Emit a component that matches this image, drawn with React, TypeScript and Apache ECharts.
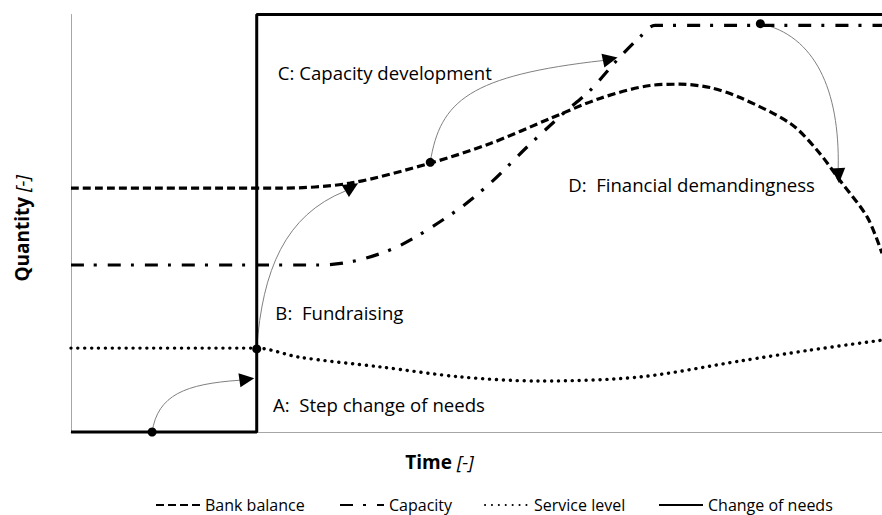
import React, { useEffect, useRef } from "react";
import * as echarts from "echarts";

// ---- data (time t in 0..100, quantity v in 0..100) ----
const changeX = [0, 22.9, 22.9, 100];
const changeY = [0, 0, 100, 100];

const bankX = [0, 25.8, 34.4, 44.3, 51.7, 59.1, 65.2, 71.4, 75.1, 78.8, 82.5, 88.7, 92.0, 94.8, 98.2, 100];
const bankY = [58.4, 58.4, 59.6, 64.4, 69.1, 75.1, 79.9, 83.0, 83.3, 82.5, 80.1, 73.9, 67.5, 60.3, 51.4, 42.8];

const capX = [0, 30.7, 35.3, 40.6, 47.6, 51.7, 56.2, 60.7, 64.0, 67.3, 70.2, 72.0, 100];
const capY = [40.0, 40.0, 41.1, 44.7, 53.1, 59.6, 68.2, 76.3, 81.8, 89.0, 94.7, 97.4, 97.4];

const serviceX = [0, 22.9, 28.2, 38.1, 48.0, 57.8, 70.2, 82.5, 91.1, 100];
const serviceY = [20.1, 20.1, 17.9, 15.6, 13.2, 12.2, 13.2, 17.0, 19.6, 22.0];

const dotX = [10.0, 22.9, 44.3, 85.0];
const dotY = [0, 19.9, 64.6, 97.8];

// annotation arrows (data coordinates)
const arrowStart = [[10.0, 0], [22.9, 19.9], [44.3, 64.6], [85.0, 97.8]];
const arrowCtrl1 = [[10.7, 8.9], [23.6, 38.8], [45.5, 79.4], [91.7, 95.0]];
const arrowCtrl2 = [[14.1, 11.5], [26.4, 51.9], [49.2, 85.4], [94.8, 82.0]];
const arrowEnd = [[20.8, 12.4], [33.8, 57.7], [65.7, 89.0], [94.6, 63.2]];
const arrowTip = [[22.6, 12.9], [35.4, 59.6], [67.4, 89.7], [94.7, 59.6]];

const annotationText = [
  "A:  Step change of needs",
  "B:  Fundraising",
  "C: Capacity development",
  "D:  Financial demandingness",
];
const annotationPos = [[24.9, 6.5], [25.2, 28.7], [25.5, 86.1], [61.3, 59.3]];

const legendNames = ["Bank balance", "Capacity", "Service level", "Change of needs"];

const zip = (xs: number[], ys: number[]) => xs.map((x, i) => [x, ys[i]]);

const FONT = "'Open Sans', Lato, sans-serif";

export default function App() {
  const ref = useRef<HTMLDivElement>(null);
  useEffect(() => {
    if (!ref.current) return;
    const chart = echarts.init(ref.current, undefined, { renderer: "svg" });
    const lineBase = { type: "line", symbol: "none", smooth: 0.3, clip: false };
    const legendLefts = [150, 334, 479, 653];
    chart.setOption({
      animation: false,
      backgroundColor: "#fff",
      textStyle: { fontFamily: FONT },
      grid: { left: 71, right: 0, top: 14.5, bottom: 83 },
      legend: legendNames.map((n, i) => ({
        data: [n],
        left: legendLefts[i],
        top: 492,
        itemWidth: 44,
        itemHeight: 14,
        itemGap: 0,
        itemStyle: { opacity: 0 },
        textStyle: { fontSize: 16, color: "#000", fontFamily: FONT },
        selectedMode: false,
      })),
      xAxis: {
        type: "value",
        min: 0,
        max: 100,
        interval: 100,
        axisLine: { show: true, onZero: false, lineStyle: { color: "#a6a6a6", width: 1 } },
        axisTick: { show: false },
        axisLabel: { show: false },
        splitLine: { show: false },
        name: "{b|Time} {i|[-]}",
        nameLocation: "middle",
        nameGap: 20,
        nameTextStyle: {
          padding: [0, 74, 0, 0],
          fontSize: 19,
          color: "#000",
          rich: {
            b: { fontWeight: "bold", fontSize: 19, fontFamily: FONT, color: "#000" },
            i: { fontStyle: "italic", fontSize: 19, fontFamily: FONT, color: "#000" },
          },
        },
      },
      yAxis: {
        type: "value",
        min: 0,
        max: 100,
        interval: 100,
        axisLine: { show: true, onZero: false, lineStyle: { color: "#a6a6a6", width: 1 } },
        axisTick: { show: false },
        axisLabel: { show: false },
        splitLine: { show: false },
        name: "{b|Quantity} {i|[-]}",
        nameLocation: "middle",
        nameRotate: 90,
        nameGap: 40,
        nameTextStyle: {
          padding: [0, 10, 0, 0],
          fontSize: 19,
          color: "#000",
          rich: {
            b: { fontWeight: "bold", fontSize: 19, fontFamily: FONT, color: "#000" },
            i: { fontStyle: "italic", fontSize: 19, fontFamily: FONT, color: "#000" },
          },
        },
      },
      series: [
        {
          ...lineBase,
          name: "Bank balance",
          data: zip(bankX, bankY),
          lineStyle: { color: "#000", width: 3.2, type: [8, 4] },
          itemStyle: { color: "#000" },
        },
        {
          ...lineBase,
          name: "Capacity",
          data: zip(capX, capY),
          lineStyle: { color: "#000", width: 3.2, type: [13, 10, 3, 11] },
          itemStyle: { color: "#000" },
        },
        {
          ...lineBase,
          name: "Service level",
          data: zip(serviceX, serviceY),
          lineStyle: { color: "#000", width: 3.4, type: [0.1, 6.8], cap: "round" },
          itemStyle: { color: "#000" },
        },
        {
          type: "line",
          name: "Change of needs",
          symbol: "none",
          clip: false,
          data: zip(changeX, changeY),
          lineStyle: { color: "#000", width: 3 },
          itemStyle: { color: "#000" },
        },
        {
          type: "custom",
          name: "annotations",
          clip: false,
          z: 3,
          data: annotationText.map((_, i) => [i]),
          renderItem: (params: any, api: any) => {
            const i = params.dataIndex;
            const p0 = api.coord(arrowStart[i]);
            const c1 = api.coord(arrowCtrl1[i]);
            const c2 = api.coord(arrowCtrl2[i]);
            const p3 = api.coord(arrowEnd[i]);
            const tip = api.coord(arrowTip[i]);
            let dx = tip[0] - p3[0];
            let dy = tip[1] - p3[1];
            const len = Math.hypot(dx, dy) || 1;
            dx /= len;
            dy /= len;
            const L = 15;
            const W = 14;
            const bx = tip[0] - dx * L;
            const by = tip[1] - dy * L;
            const px = -dy * (W / 2);
            const py = dx * (W / 2);
            const tp = api.coord(annotationPos[i]);
            return {
              type: "group",
              children: [
                {
                  type: "bezierCurve",
                  shape: {
                    x1: p0[0], y1: p0[1],
                    cpx1: c1[0], cpy1: c1[1],
                    cpx2: c2[0], cpy2: c2[1],
                    x2: p3[0], y2: p3[1],
                  },
                  style: { stroke: "#808080", lineWidth: 1, fill: null },
                },
                {
                  type: "polygon",
                  shape: { points: [[tip[0], tip[1]], [bx + px, by + py], [bx - px, by - py]] },
                  style: { fill: "#000", stroke: "none" },
                },
                {
                  type: "text",
                  x: tp[0],
                  y: tp[1],
                  style: {
                    text: annotationText[i],
                    fill: "#000",
                    fontSize: 18.6,
                    fontFamily: FONT,
                    align: "left",
                    verticalAlign: "middle",
                  },
                },
              ],
            };
          },
        },
        {
          type: "scatter",
          name: "points",
          symbol: "circle",
          symbolSize: 9,
          clip: false,
          z: 4,
          data: zip(dotX, dotY),
          itemStyle: { color: "#000", opacity: 1 },
        },
      ],
    });
    return () => chart.dispose();
  }, []);
  return (
    <div
      ref={ref}
      style={{ position: "fixed", left: 0, top: 0, width: 882, height: 515 }}
    />
  );
}
